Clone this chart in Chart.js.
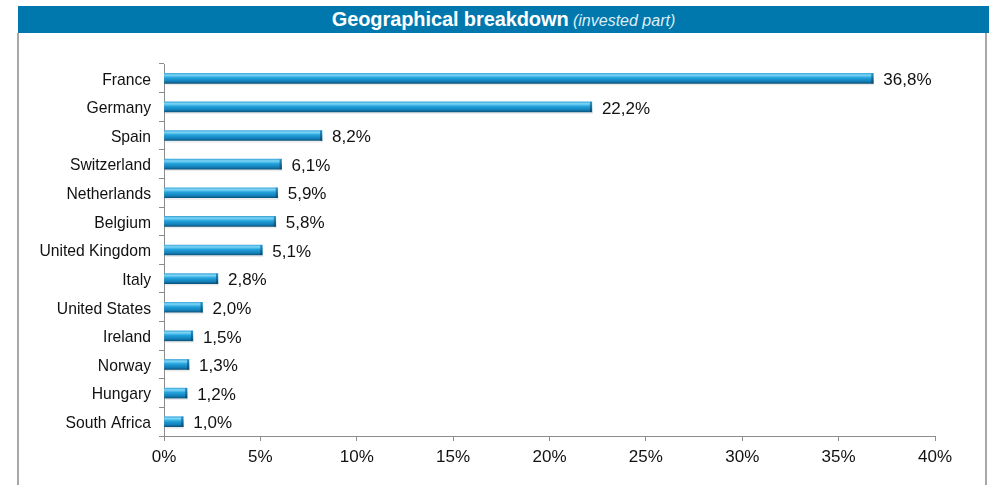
<!DOCTYPE html>
<html>
<head>
<meta charset="utf-8">
<script src="https://cdn.jsdelivr.net/npm/chart.js@4/dist/chart.umd.min.js"></script>
<style>
  html, body { margin: 0; padding: 0; background: #fff; }
  body { width: 989px; height: 485px; position: relative; overflow: hidden; font-family: "Liberation Sans", Arial, sans-serif; }
  #chart { position: absolute; left: 0; top: 0; }
  .header {
    position: absolute; left: 18px; top: 6px; width: 971px; height: 27px;
    background: #0077ad; color: #fff; text-align: center; line-height: 27px;
  }
  .header b { font-size: 20px; letter-spacing: -0.1px; }
  .header i { font-size: 16px; font-weight: normal; color: #dfeef6; }
  .border-l, .border-r { position: absolute; top: 33px; bottom: 0; width: 2px; background: #a8a8a8; }
  .border-l { left: 17px; }
  .border-r { left: 985px; }
</style>
</head>
<body>
<div class="header"><b>Geographical breakdown</b> <i>(invested part)</i></div>
<div class="border-l"></div>
<div class="border-r"></div>
<canvas id="chart" width="989" height="485"></canvas>
<script>
// =========================
// DATA
// =========================
const countries = ["France", "Germany", "Spain", "Switzerland", "Netherlands", "Belgium",
    "United Kingdom", "Italy", "United States", "Ireland", "Norway", "Hungary", "South Africa"];
const weights = [36.8, 22.2, 8.2, 6.1, 5.9, 5.8, 5.1, 2.8, 2.0, 1.5, 1.3, 1.2, 1.0];
const xTicks = [0, 5, 10, 15, 20, 25, 30, 35, 40];

const BAR_H = 10;

// cylinder-ish gradient per bar, positioned with the y scale
function barFill(ctx) {
    const chart = ctx.chart;
    const y = chart.scales && chart.scales.y;
    if (!y || ctx.dataIndex === undefined) return "#1a9ad6";
    const c = y.getPixelForValue(ctx.dataIndex);
    if (!isFinite(c)) return "#1a9ad6";
    const g = chart.ctx.createLinearGradient(0, c - BAR_H / 2, 0, c + BAR_H / 2);
    g.addColorStop(0, "#3fa9dc");
    g.addColorStop(0.18, "#7fd6f6");
    g.addColorStop(0.45, "#22a2dc");
    g.addColorStop(0.8, "#137fb8");
    g.addColorStop(1, "#0b5680");
    return g;
}

// darker end cap + value labels
const valueLabels = {
    id: "valueLabels",
    afterDatasetsDraw(chart) {
        const ctx = chart.ctx;
        const meta = chart.getDatasetMeta(0);
        ctx.save();
        meta.data.forEach((bar, i) => {
            const top = bar.y - BAR_H / 2;
            const g = ctx.createLinearGradient(0, top, 0, top + BAR_H);
            g.addColorStop(0, "#2b8fc4");
            g.addColorStop(1, "#084a70");
            ctx.fillStyle = g;
            ctx.fillRect(bar.x - 2, top, 2, BAR_H);
            // soft shadow under bar
            ctx.fillStyle = "rgba(0,0,0,0.08)";
            ctx.fillRect(bar.base + 1, top + BAR_H, bar.x - bar.base, 2);

            ctx.fillStyle = "#111";
            ctx.font = "17px 'Liberation Sans', Arial, sans-serif";
            ctx.textBaseline = "middle";
            ctx.textAlign = "left";
            ctx.fillText(weights[i].toFixed(1).replace(".", ",") + "%", bar.x + 10, bar.y + 2);
        });
        ctx.restore();
    }
};

new Chart(document.getElementById("chart"), {
    type: "bar",
    data: {
        labels: countries,
        datasets: [{
            data: weights,
            backgroundColor: barFill,
            borderWidth: 0,
            barThickness: BAR_H
        }]
    },
    options: {
        indexAxis: "y",
        responsive: false,
        animation: false,
        layout: { padding: { top: 64, right: 54, left: 0, bottom: 0 } },
        plugins: {
            legend: { display: false },
            tooltip: { enabled: false }
        },
        scales: {
            x: {
                min: 0,
                max: 40,
                afterBuildTicks: axis => { axis.ticks = xTicks.map(v => ({ value: v })); },
                afterFit: axis => { axis.height = 49; },
                grid: { drawOnChartArea: false, tickLength: 5, color: "#8c8c8c" },
                border: { color: "#8c8c8c" },
                ticks: {
                    padding: 6,
                    color: "#111",
                    font: { family: "'Liberation Sans', Arial, sans-serif", size: 17 },
                    callback: v => v + "%"
                }
            },
            y: {
                afterFit: axis => { axis.width = 164; },
                grid: { drawOnChartArea: false, tickLength: 5, color: "#8c8c8c", offset: true },
                border: { color: "#8c8c8c" },
                ticks: {
                    padding: 8,
                    labelOffset: 2,
                    color: "#111",
                    font: { family: "'Liberation Sans', Arial, sans-serif", size: 15.7 }
                }
            }
        }
    },
    plugins: [valueLabels]
});
</script>
</body>
</html>
